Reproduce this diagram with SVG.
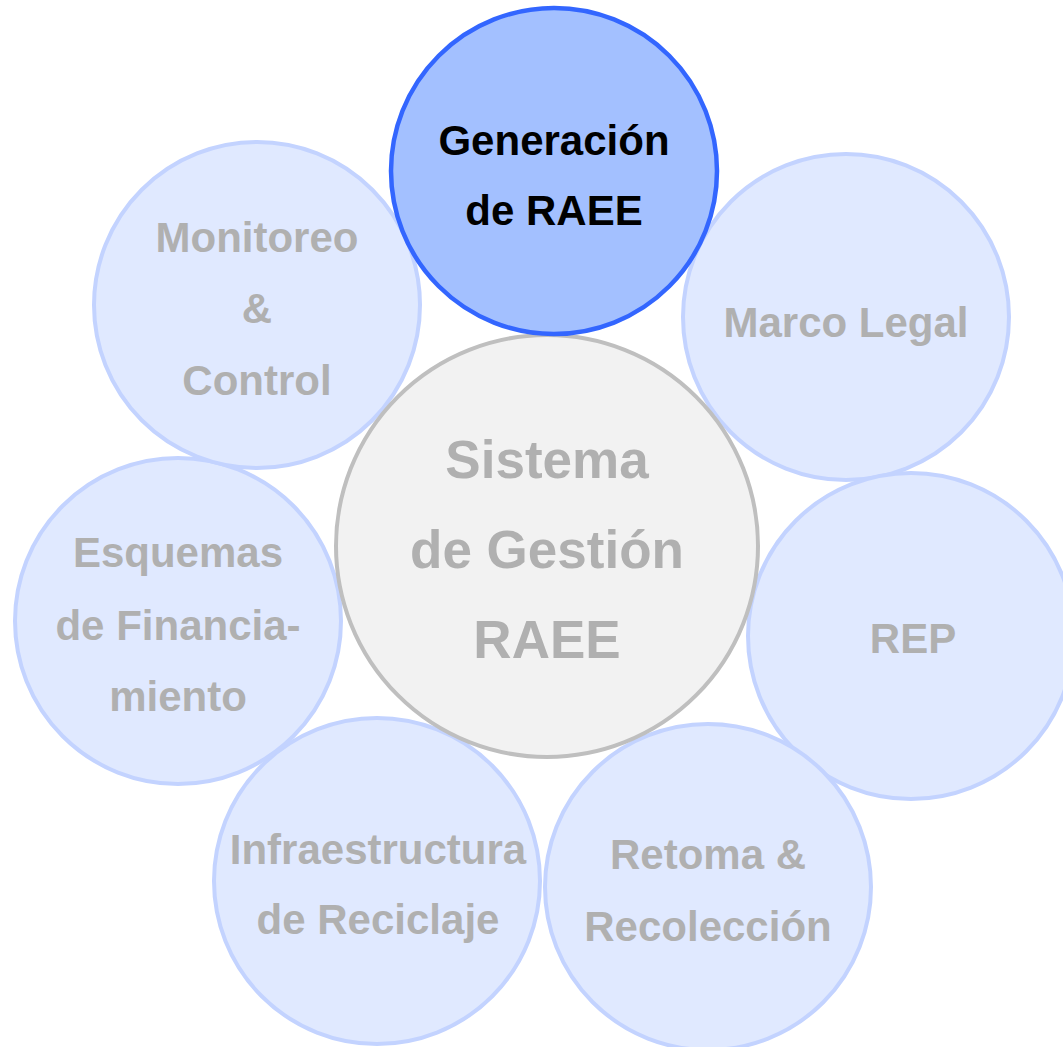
<svg xmlns="http://www.w3.org/2000/svg" width="1063" height="1047" viewBox="0 0 1063 1047">
<style>
.outer{fill:#e0e9ff;stroke:#c3d3ff;stroke-width:4}
.center{fill:#f2f2f2;stroke:#bfbfbf;stroke-width:4}
.main{fill:#a3c0ff;stroke:#3366ff;stroke-width:4.5}
text{font-family:"Liberation Sans",Arial,sans-serif;font-weight:bold;text-anchor:middle}
.lt{font-size:42px;fill:#b0b0b0}
.ct{font-size:53px;fill:#b0b0b0}
.mt{font-size:42px;fill:#000000}
</style>
<rect x="0" y="0" width="1063" height="1047" fill="#ffffff"/>
<g id="connectors"></g>
<g id="node-marco-legal">
<circle class="outer" cx="846" cy="317" r="163"/>
<text class="lt" x="846" y="337">Marco Legal</text>
</g>
<g id="node-rep">
<circle class="outer" cx="911" cy="636" r="163"/>
<text class="lt" x="913" y="653">REP</text>
</g>
<g id="node-retoma">
<circle class="outer" cx="708" cy="887" r="163"/>
<text class="lt" x="708" y="869">Retoma &amp;</text>
<text class="lt" x="708" y="941">Recolección</text>
</g>
<g id="node-infraestructura">
<circle class="outer" cx="377" cy="881" r="163"/>
<text class="lt" x="378" y="864">Infraestructura</text>
<text class="lt" x="378" y="934">de Reciclaje</text>
</g>
<g id="node-esquemas">
<circle class="outer" cx="178" cy="621" r="163"/>
<text class="lt" x="178" y="567">Esquemas</text>
<text class="lt" x="178" y="640">de Financia-</text>
<text class="lt" x="178" y="711">miento</text>
</g>
<g id="node-monitoreo">
<circle class="outer" cx="257" cy="305" r="163"/>
<text class="lt" x="257" y="252">Monitoreo</text>
<text class="lt" x="257" y="323">&amp;</text>
<text class="lt" x="257" y="395">Control</text>
</g>
<g id="node-sistema">
<circle class="center" cx="547" cy="546" r="211"/>
<text class="ct" x="547" y="478">Sistema</text>
<text class="ct" x="547" y="568">de Gestión</text>
<text class="ct" x="547" y="658">RAEE</text>
</g>
<g id="node-generacion">
<circle class="main" cx="554" cy="171" r="163"/>
<text class="mt" x="554" y="155">Generación</text>
<text class="mt" x="554" y="225">de RAEE</text>
</g>
</svg>
